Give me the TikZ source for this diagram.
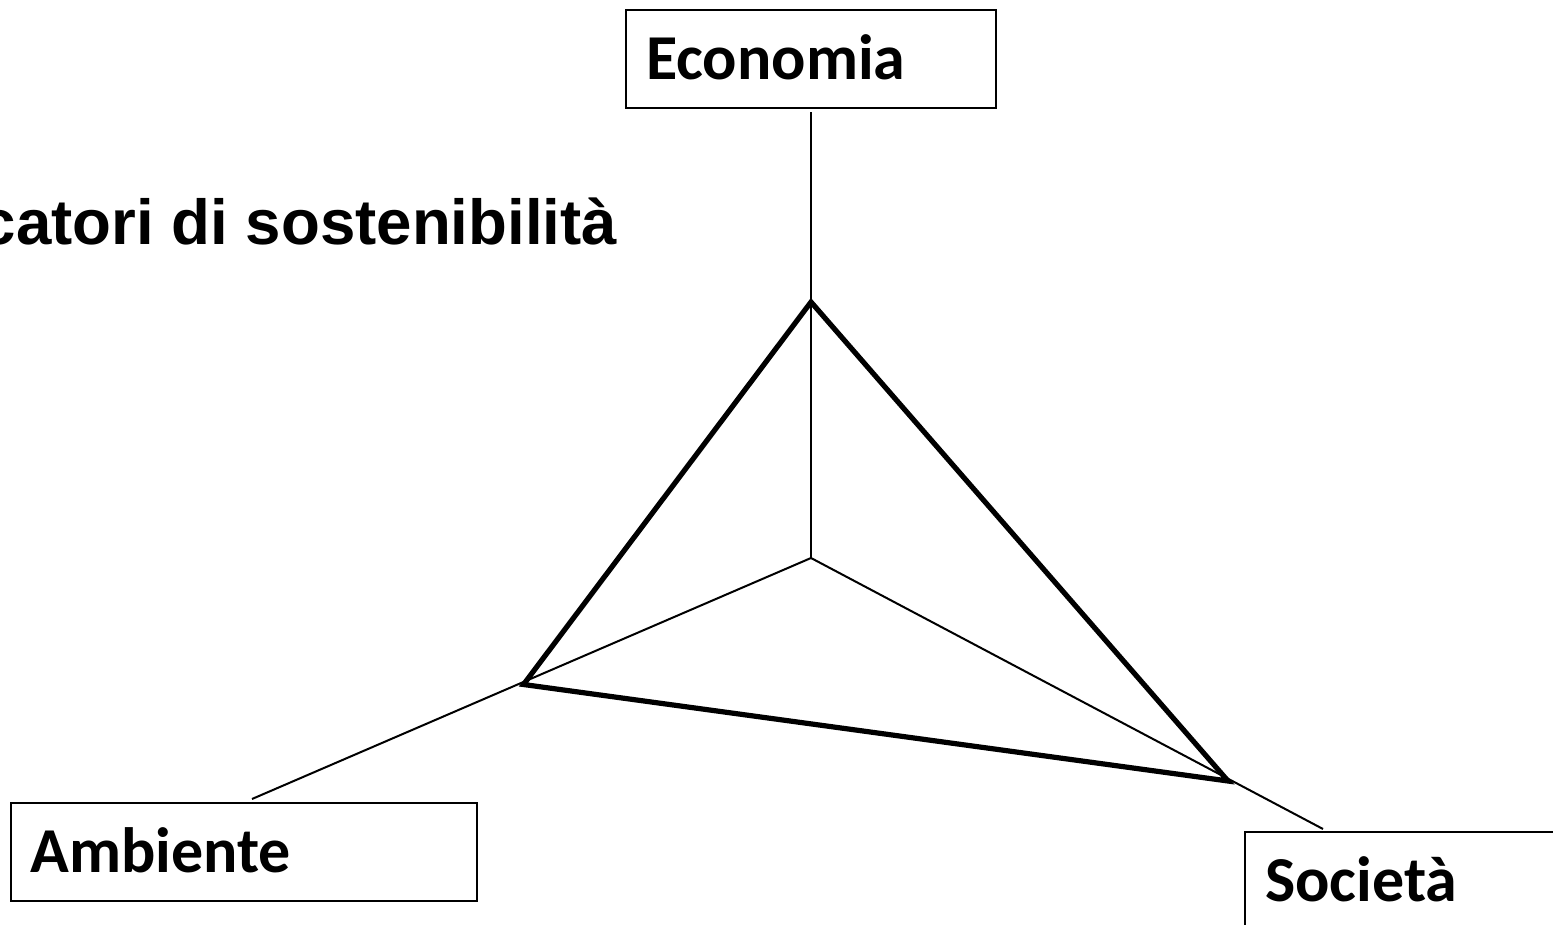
\documentclass[tikz,border=0pt]{standalone}
\usepackage{fontspec}
\newfontfamily\boxfont{Carlito}
\newfontfamily\titlefont{Liberation Sans}
\usetikzlibrary{positioning, calc}
\tikzset{
  every picture/.style={line width=1pt},
  pillar/.style={draw, line width=1pt, align=left, inner xsep=10pt, inner ysep=0pt,
    text height=20.5pt, text depth=0pt, minimum height=49pt,
    font=\boxfont\bfseries\fontsize{32}{32}\selectfont},
  axis/.style={line width=1pt},
  tri/.style={line width=2.6pt, line join=miter},
  title/.style={font=\titlefont\bfseries\fontsize{31.8}{32}\selectfont, inner sep=0pt},
}

\begin{document}
\begin{tikzpicture}[x=0.5pt, y=-0.5pt]
  \useasboundingbox (0,0) rectangle (1553,925);
  \clip (0,0) rectangle (1553,925);
  % the three pillars
  \node[pillar, text width=165pt] (econ) at (811,59) {Economia};
  \node[pillar, text width=213pt] (amb) at (243.5,852) {Ambiente};
  \node[pillar, text width=213pt, anchor=west] (soc) at (1244,881) {Società};
  % axes of the radar
  \coordinate (O) at (811,558);
  \coordinate (eEnd) at (811,112);
  \coordinate (aEnd) at (252,799);
  \coordinate (sEnd) at (1323,829);
  \draw[axis] (O) -- (eEnd);
  \draw[axis] (O) -- (aEnd);
  \draw[axis] (O) -- (sEnd);
  % values on each axis
  \coordinate (vE) at (811,302);
  \coordinate (vA) at (523.5,684.5);
  \coordinate (vS) at (1228,781);
  \draw[tri] (vE) -- (vA) -- (vS) -- cycle;
  \node[title, anchor=base east] (ttl) at (618,245) {Indicatori di sostenibilità};
\end{tikzpicture}
\end{document}
